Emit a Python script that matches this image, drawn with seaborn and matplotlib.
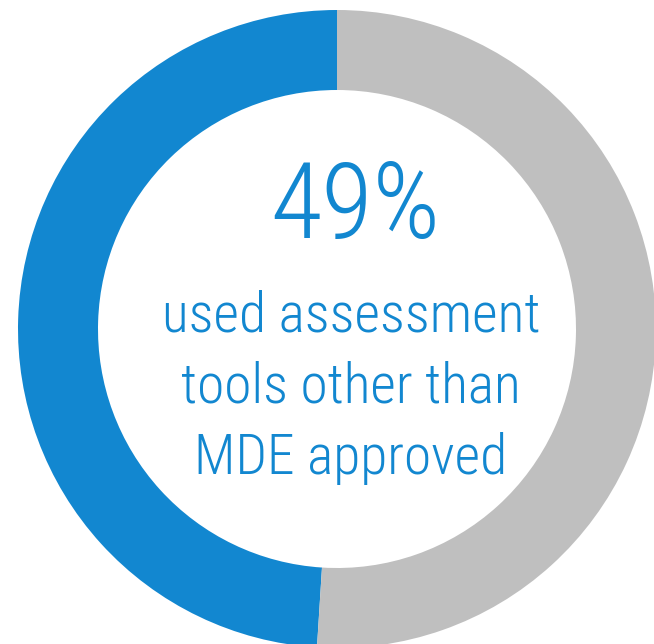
"""
Donut chart: share of respondents using non-MDE assessment tools
"""

import matplotlib
matplotlib.use('Agg')
import matplotlib.pyplot as plt
from matplotlib import font_manager
import seaborn as sns

# Datos del gráfico
labels = ['Other than MDE approved', 'Rest']
values = [49, 51]
colors = ['#1287D0', '#BFBFBF']
headline = '49%'
caption_lines = ['used assessment', 'tools other than', 'MDE approved']

sns.set_style('white')

# Fuente condensada: la primera instalada de la lista
installed = {f.name for f in font_manager.fontManager.ttflist}
candidates = ['Liberation Sans Narrow', 'Roboto Condensed', 'Archivo Narrow',
              'PT Sans Narrow', 'IBM Plex Sans Condensed', 'Sofia Sans Condensed',
              'Saira SemiCondensed']
family = [f for f in candidates if f in installed][:1] + ['DejaVu Sans']
plt.rcParams['font.family'] = family

fig = plt.figure(figsize=(6.54, 6.44), dpi=100)
ax = fig.add_axes([0, 0, 1, 1])

# Donut
ax.pie(values, colors=colors, startangle=90, counterclock=True,
       center=(337, 315), radius=319,
       wedgeprops=dict(width=80, edgecolor='none'))
ax.set_xlim(0, 654)
ax.set_ylim(0, 644)
ax.set_aspect('equal')
ax.axis('off')

# Textos centrales
ax.text(355, 406, headline, ha='center', va='baseline',
        fontsize=76, fontweight='light', color=colors[0])
for i, line in enumerate(caption_lines):
    ax.text(351, 313 - i * 71.5, line, ha='center', va='baseline',
            fontsize=40, fontweight='light', color=colors[0])

fig.savefig('out.png', dpi=100)
plt.close(fig)
